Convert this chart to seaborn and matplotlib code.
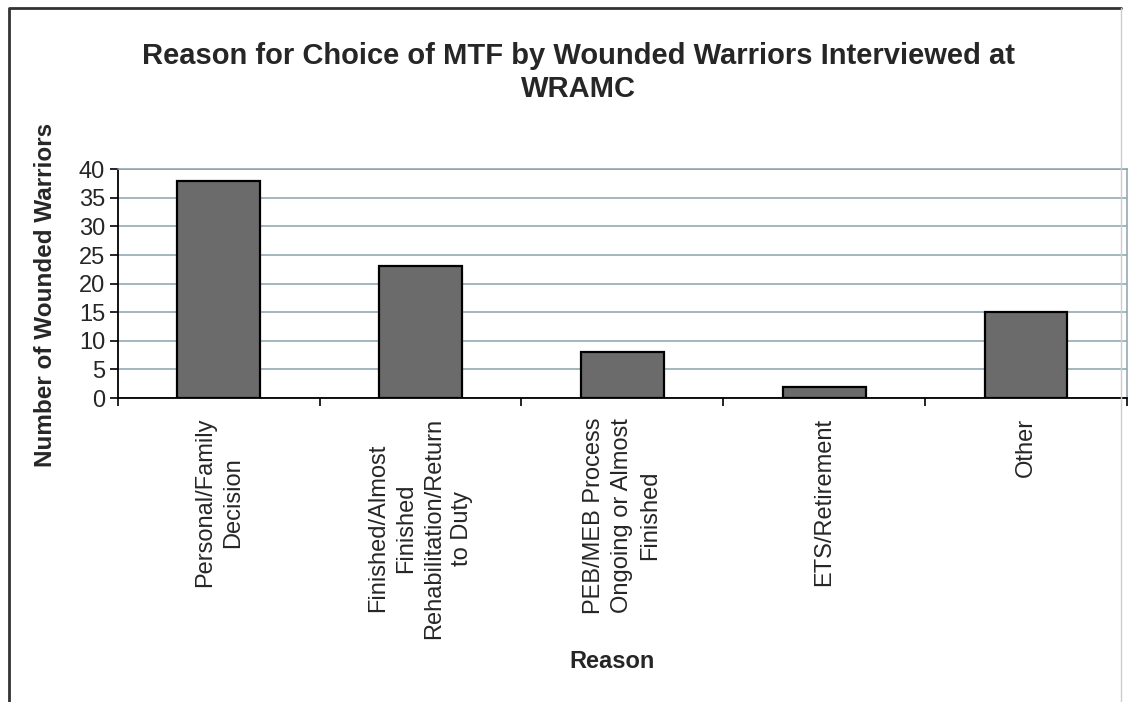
import numpy as np
import pandas as pd
import matplotlib
matplotlib.use("Agg")
import matplotlib.pyplot as plt
import seaborn as sns
from matplotlib.lines import Line2D

# data
reasons = ["Personal/Family\nDecision",
           "Finished/Almost\nFinished\nRehabilitation/Return\nto Duty",
           "PEB/MEB Process\nOngoing or Almost\nFinished",
           "ETS/Retirement",
           "Other"]
counts = [38, 23, 8, 2, 15]

df = pd.DataFrame({"Reason": reasons, "Count": counts})

sns.set_style("white")
plt.rcParams['font.family'] = ['Liberation Sans', 'DejaVu Sans']

fig = plt.figure(figsize=(11.32, 7.02), dpi=100)
ax = fig.add_axes([0.104, 0.433, 0.8916, 0.326])

sns.barplot(data=df, x="Reason", y="Count", color="#6b6b6b", width=0.41,
            edgecolor="black", linewidth=1.6, saturation=1, ax=ax, zorder=3)

ax.set_ylim(0, 40)
ax.set_xlim(-0.5, 4.5)
ax.set_yticks(range(0, 41, 5))
ax.yaxis.grid(True, color="#8aa3ad", linewidth=1.1, zorder=0)
ax.set_axisbelow(True)

# category boundary ticks on x axis
ax.set_xticks(range(5))
ax.set_xticks(np.arange(-0.5, 5, 1), minor=True)
ax.tick_params(axis="x", which="minor", bottom=True, length=6, width=1.2, color="black",
               direction="out")
ax.tick_params(axis="x", which="major", bottom=False, length=0, labelsize=17, pad=14)
ax.tick_params(axis="y", which="major", left=True, length=6, width=1.2, color="black",
               direction="out", labelsize=17, pad=3)
ax.set_xticklabels(reasons, rotation=90, ha="center", va="top", multialignment="center",
                   linespacing=1.35)

for side in ["left", "bottom"]:
    ax.spines[side].set_color("black")
    ax.spines[side].set_linewidth(1.3)
for side in ["top", "right"]:
    ax.spines[side].set_color("#8aa3ad")
    ax.spines[side].set_linewidth(1.1)

ax.set_xlabel("")
ax.set_ylabel("")
fig.text(0.04, 0.58, "Number of Wounded Warriors", rotation=90, ha="center", va="center",
         fontsize=17.5, fontweight="bold")
fig.text(0.541, 0.057, "Reason", ha="center", va="center", fontsize=17, fontweight="bold")
fig.text(0.511, 0.897, "Reason for Choice of MTF by Wounded Warriors Interviewed at\nWRAMC",
         ha="center", va="center", fontsize=21, fontweight="bold", linespacing=1.2)

# outer frame of the chart area
fig.lines.append(Line2D([0.008, 0.008, 0.99], [0.0, 0.988, 0.988], transform=fig.transFigure,
                        color="#333333", linewidth=2))
fig.lines.append(Line2D([0.99, 0.99], [0.0, 0.988], transform=fig.transFigure,
                        color="#cccccc", linewidth=1))

fig.savefig("out.png", dpi=100)
